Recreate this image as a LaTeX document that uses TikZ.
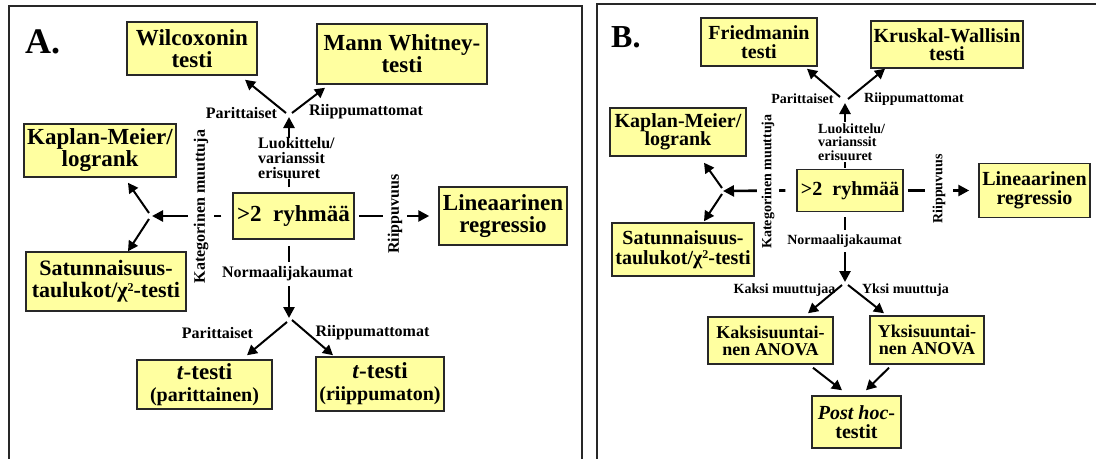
\documentclass[tikz,border=0pt]{standalone}
\usepackage{fontspec}
\setmainfont{Liberation Serif}
\usetikzlibrary{arrows.meta}
\definecolor{boxfill}{RGB}{255,255,160}
\definecolor{framecol}{RGB}{40,40,40}
% small raised "2" of chi-square, kept low so that it stays clear of the line above
\newcommand{\sqtwo}{\raisebox{0.28em}{\fontsize{12}{12}\selectfont 2}}
\begin{document}
\begin{tikzpicture}[x=1pt,y=-1pt,
  box/.style={draw=framecol, line width=1.5pt, fill=boxfill, align=center, inner sep=0pt},
  sz/.style 2 args={minimum width=#1, minimum height=#2},
  bigA/.style={font=\bfseries\fontsize{23}{22}\selectfont},
  bigB/.style={font=\bfseries\fontsize{20}{18.5}\selectfont},
  midB/.style={font=\bfseries\fontsize{18}{17}\selectfont},
  lblA/.style={font=\bfseries\fontsize{16}{15}\selectfont, inner sep=0pt},
  lblB/.style={font=\bfseries\fontsize{14}{13.5}\selectfont, inner sep=0pt},
  mask/.style={fill=white},
  arr/.style={line width=2.6pt, -{Triangle[length=11pt,width=11pt]}},
  arrthin/.style={line width=2pt, -{Triangle[length=10pt,width=10.5pt]}},
  panel/.style={draw=framecol, line width=1.5pt}
]
\useasboundingbox (0,0) rectangle (1100,458);
\clip (0,0) rectangle (1100,458);

% panel frames
\draw[panel] (9,470) -- (9,6) -- (582,6) -- (582,470);
\draw[panel] (597,470) -- (597,4) -- (1096,4);

% ---------------- panel A ----------------
\node[anchor=base west, font=\bfseries\fontsize{36}{36}\selectfont, inner sep=0pt] (titA) at (25,53) {A.};

\node[box, bigA, sz={130}{53}] (wil) at (192,48.5) {Wilcoxonin\\testi};
\node[box, bigA, sz={170}{60}] (mw) at (402,54) {Mann Whitney-\\testi};
\node[box, bigA, sz={152}{53}] (km) at (100,150.5) {Kaplan-Meier/\\logrank};
\node[box, bigA, sz={121}{46}] (grpA) at (293.5,216) {>2\ \ ryhmää};
\node[box, bigA, sz={128}{58}] (lin) at (503,216) {Lineaarinen\\regressio};
\node[box, font=\bfseries\fontsize{22}{22}\selectfont, sz={160}{59}] (sat) at (106,281.5) {Satunnaisuus-\\taulukot/χ\sqtwo-testi};
\node[box, bigA, sz={135}{49}] (tp) at (204.5,384.5) {\textit{t}-testi\\{\fontsize{20}{19}\selectfont(parittainen)}};
\node[box, bigA, sz={128}{54}] (tr) at (380,384) {\textit{t}-testi\\{\fontsize{20}{19}\selectfont(riippumaton)}};

\coordinate (sAt) at (289,114);
\coordinate (sAl) at (150,216);
\coordinate (sAb) at (289,320);

% connectors
\draw[arr] ([shift={(-4.5,-5)}]grpA.north) -- ([shift={(0,3)}]sAt);
\draw[arrthin] ([shift={(-3,-1)}]sAt) -- ([shift={(53,4)}]wil.south);
\draw[arrthin] ([shift={(3,-1)}]sAt) -- ([shift={(-77,3)}]mw.south);

\draw[arr] ([xshift=-11pt]grpA.west) -- ([xshift=2pt]sAl);
\draw[arrthin] ([shift={(-1,-3)}]sAl) -- ([shift={(28,5)}]km.south);
\draw[arrthin] ([shift={(-1,3)}]sAl) -- ([shift={(22,0)}]sat.north);

\draw[arr] ([xshift=4pt]grpA.east) -- ([xshift=-9pt]lin.west);

\draw[arr] ([shift={(-4.5,6)}]grpA.south) -- ([shift={(0,-2)}]sAb);
\draw[arrthin] ([shift={(-2,2)}]sAb) -- ([shift={(42.5,-4)}]tp.north);
\draw[arrthin] ([shift={(3,0)}]sAb) -- ([shift={(-47,-1)}]tr.north);

% labels
\node[lblA, mask, align=left, anchor=west] (luoA) at (258,158.5) {Luokittelu/\\varianssit\\erisuuret};
\node[lblA] (parA1) at (241.5,113) {Parittaiset};
\node[lblA] (riiA1) at (366,112) {Riippumattomat};
\node[lblA, mask, rotate=90, inner xsep=1pt, inner ysep=6pt] (katA) at (201,206.5) {Kategorinen muuttuja};
\node[lblA, mask, rotate=90, inner xsep=1pt, inner ysep=5pt] (ripA) at (395,214) {Riippuvuus};
\node[lblA, mask, inner xsep=2pt, inner ysep=5pt] (norA) at (287.5,274) {Normaalijakaumat};
\node[lblA] (parA2) at (217.5,333) {Parittaiset};
\node[lblA] (riiA2) at (372.5,333) {Riippumattomat};

% ---------------- panel B ----------------
\node[anchor=base west, font=\bfseries\fontsize{32}{32}\selectfont, inner sep=0pt] (titB) at (611,47) {B.};

\node[box, bigB, sz={116}{48}] (fr) at (759,42) {Friedmanin\\testi};
\node[box, bigB, sz={152}{47}] (kw) at (947,44.5) {Kruskal-Wallisin\\testi};
\node[box, bigB, sz={136}{48}] (kmB) at (678,132) {Kaplan-Meier/\\logrank};
\node[box, bigB, sz={106}{42}] (grpB) at (850,190.5) {>2\ \ ryhmää};
\node[box, bigB, sz={111}{54}] (linB) at (1034.5,190.5) {Lineaarinen\\regressio};
\node[box, font=\bfseries\fontsize{20}{20}\selectfont, sz={142}{53}] (satB) at (683,249.5) {Satunnaisuus-\\taulukot/χ\sqtwo-testi};
\node[box, midB, sz={125}{47}] (kak) at (770.5,340.5) {Kaksisuuntai-\\nen ANOVA};
\node[box, midB, sz={114}{48}] (yks) at (927,340) {Yksisuuntai-\\nen ANOVA};
\node[box, bigB, sz={89}{52}] (ph) at (856.5,422) {\textit{Post hoc}-\\testit};

\coordinate (sBt) at (845,100);
\coordinate (sBl) at (721,191);
\coordinate (sBb) at (845,284);

% connectors
\draw[arr] ([shift={(-5,-1)}]grpB.north) -- ([shift={(0,3)}]sBt);
\draw[arrthin] ([shift={(-5,-3)}]sBt) -- ([shift={(48,2)}]fr.south);
\draw[arrthin] ([shift={(3,-1)}]sBt) -- ([shift={(-62,0)}]kw.south);

\draw[arr] ([xshift=-11pt]grpB.west) -- ([xshift=2pt]sBl);
\draw[arrthin] ([shift={(1,-3)}]sBl) -- ([shift={(26,6)}]kmB.south);
\draw[arrthin] ([shift={(1,3)}]sBl) -- ([shift={(21,-1)}]satB.north);

\draw[arr] ([xshift=4pt]grpB.east) -- ([xshift=-9pt]linB.west);

\draw[arr] ([shift={(-5,5)}]grpB.south) -- ([shift={(0,-2)}]sBb);
\draw[arrthin] ([shift={(-3,1)}]sBb) -- ([shift={(37.5,-3)}]kak.north);
\draw[arrthin] ([shift={(3,1)}]sBb) -- ([shift={(-43,-2)}]yks.north);
\draw[arrthin] ([shift={(42.5,3)}]kak.south) -- ([shift={(-14.5,-5)}]ph.north);
\draw[arrthin] ([shift={(-38,3)}]yks.south) -- ([shift={(9.5,-5)}]ph.north);

% labels
\node[lblB, mask, align=left, anchor=west, inner sep=1.5pt] (luoB) at (816.5,142) {Luokittelu/\\varianssit\\erisuuret};
\node[lblB] (parB) at (802.5,99) {Parittaiset};
\node[lblB] (riiB) at (914,99) {Riippumattomat};
\node[lblB, mask, rotate=90, inner xsep=1pt, inner ysep=5pt] (katB) at (768,181.5) {Kategorinen muuttuja};
\node[lblB, mask, rotate=90, inner xsep=1pt, inner ysep=8pt] (ripB) at (939,189) {Riippuvuus};
\node[lblB, mask, inner xsep=2pt, inner ysep=5pt] (norB) at (844.5,241) {Normaalijakaumat};
\node[lblB] (kakL) at (784.5,290) {Kaksi muuttujaa};
\node[lblB] (yksL) at (905.5,290) {Yksi muuttuja};
\end{tikzpicture}
\end{document}
